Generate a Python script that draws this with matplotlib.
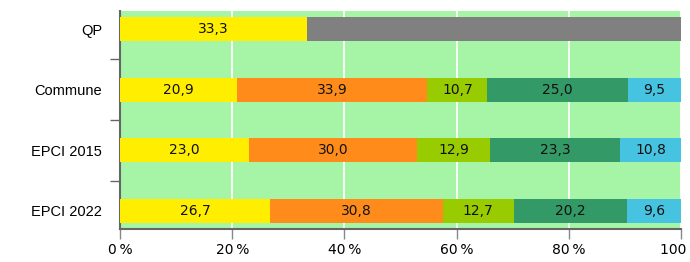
import matplotlib
matplotlib.use('Agg')
from matplotlib import pyplot as plt
from matplotlib.ticker import FixedLocator, FuncFormatter

# Donnees (en %).
categories = ['QP', 'Commune', 'EPCI 2015', 'EPCI 2022']
tranche_1 = [33.3, 20.9, 23.0, 26.7]
tranche_2 = [0.0, 33.9, 30.0, 30.8]
tranche_3 = [0.0, 10.7, 12.9, 12.7]
tranche_4 = [0.0, 25.0, 23.3, 20.2]
tranche_5 = [0.0, 9.5, 10.8, 9.6]
non_diffuse = [66.7, 0.0, 0.0, 0.0]

series = [tranche_1, tranche_2, tranche_3, tranche_4, tranche_5, non_diffuse]
couleurs = ['#ffee00', '#ff8c1a', '#99cc00', '#339966', '#46c3e0', '#808080']
avec_etiquette = [True, True, True, True, True, False]

fig = plt.figure(figsize=(6.9, 2.62), dpi=100)
ax = fig.add_axes([120 / 690, 33 / 262, 561 / 690, 218 / 262])
ax.set_facecolor('#a6f5a6')

y = list(range(len(categories)))
gauche = [0.0] * len(categories)
for valeurs, couleur, etiq in zip(series, couleurs, avec_etiquette):
    barres = ax.barh(y, valeurs, left=gauche, height=0.4, color=couleur,
                     zorder=3)
    if etiq:
        for b, v in zip(barres, valeurs):
            if v > 0:
                ax.text(b.get_x() + b.get_width() / 2,
                        b.get_y() + b.get_height() / 2,
                        f'{v:.1f}'.replace('.', ','),
                        ha='center', va='center', fontsize=10,
                        family='DejaVu Sans', color='#111111', zorder=4)
    gauche = [g + v for g, v in zip(gauche, valeurs)]

ax.set_xlim(0, 100)
ax.set_ylim(3.3, -0.3)

ax.set_yticks(y)
ax.set_yticklabels(categories, family='Liberation Sans', fontsize=10.5)
ax.yaxis.set_minor_locator(FixedLocator([0.5, 1.5, 2.5]))
ax.tick_params(axis='y', which='major', length=0, pad=13)
ax.tick_params(axis='y', which='minor', length=7, color='#666666',
               width=1)

ax.set_xticks([0, 20, 40, 60, 80, 100])
ax.xaxis.set_major_formatter(FuncFormatter(lambda v, p: f'{v:.0f}\u2009%'))
ax.tick_params(axis='x', length=7, color='#888888', width=1, pad=3,
               labelsize=10)

ax.grid(True, axis='x', color='white', linewidth=1.3, zorder=1)
ax.set_axisbelow(True)

for cote in ['top', 'right']:
    ax.spines[cote].set_visible(False)
for cote in ['left', 'bottom']:
    ax.spines[cote].set_color('#666666')
    ax.spines[cote].set_linewidth(1.5)

fig.savefig('out.png', dpi=100)
